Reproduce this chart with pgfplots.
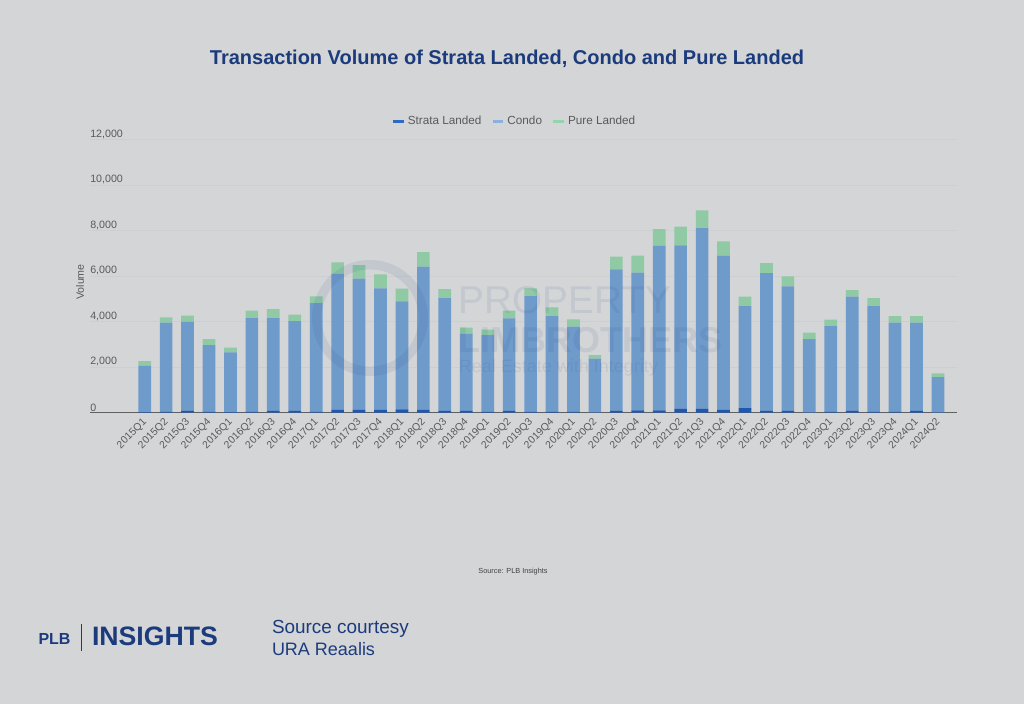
\documentclass[border=0pt]{standalone}
\usepackage{pgfplots}
\pgfplotsset{compat=1.18}
\usepackage{pgfplotstable}
\usepackage{fontspec}
\setmainfont{Liberation Sans}
\definecolor{bg}{HTML}{D4D5D7}
\definecolor{condo}{HTML}{6F9BCB}
\definecolor{pure}{HTML}{8FCAA5}
\definecolor{strata}{HTML}{1F58AE}
\definecolor{strataL}{HTML}{2F6BC6}
\definecolor{condoL}{HTML}{8DB0DE}
\definecolor{pureL}{HTML}{93D3AE}
\definecolor{navy}{HTML}{1B3B7D}
\definecolor{tickgray}{HTML}{5A5A5A}
\definecolor{gridc}{HTML}{CDCED0}

\pgfplotstableread{
x strata condo pure
0 20 2046 205
1 40 3916 234
2 90 3910 263
3 45 2929 264
4 20 2632 205
5 45 4116 322
6 75 4086 395
7 75 3954 278
8 45 4775 293
9 120 5989 498
10 120 5769 601
11 120 5344 616
12 150 4743 557
13 120 6297 644
14 75 4965 395
15 75 3397 264
16 45 3368 235
17 75 4071 337
18 45 5083 336
19 45 4204 380
20 45 3735 322
21 15 2358 161
22 90 6210 556
23 100 6053 747
24 100 7240 732
25 175 7179 821
26 175 7941 777
27 130 6770 630
28 200 4488 410
29 90 6048 440
30 75 5477 440
31 15 3223 278
32 45 3764 278
33 90 5008 293
34 45 4643 352
35 45 3911 293
36 75 3881 293
37 15 1553 161
}\data

\begin{document}
\begin{tikzpicture}
\fill[bg] (0,0) rectangle (768pt,528pt);
\useasboundingbox (0,0) rectangle (768pt,528pt);

% title
\node[anchor=base, text=navy, font=\bfseries\fontsize{15}{17}\selectfont, inner sep=0pt]
  at (380.25pt,479.75pt) {Transaction Volume of Strata Landed, Condo and Pure Landed};

% y label
\node[rotate=90, text=tickgray, font=\fontsize{8}{9}\selectfont, inner sep=0pt] at (60pt,316.5pt) {Volume};

\begin{axis}[
  at={(67.5pt,218.5pt)}, anchor=south west,
  scale only axis, width=650.25pt, height=204.7pt,
  ybar stacked, bar width=9.5pt,
  xmin=-2.55, xmax=37.89, ymin=0, ymax=12000,
  xtick={0,...,37},
  xticklabels={2015Q1,2015Q2,2015Q3,2015Q4,2016Q1,2016Q2,2016Q3,2016Q4,2017Q1,2017Q2,2017Q3,2017Q4,2018Q1,2018Q2,2018Q3,2018Q4,2019Q1,2019Q2,2019Q3,2019Q4,2020Q1,2020Q2,2020Q3,2020Q4,2021Q1,2021Q2,2021Q3,2021Q4,2022Q1,2022Q2,2022Q3,2022Q4,2023Q1,2023Q2,2023Q3,2023Q4,2024Q1,2024Q2},
  ytick={0,2000,4000,6000,8000,10000,12000},
  scaled y ticks=false,
  /pgf/number format/.cd, 1000 sep={,}, assume math mode=true, /pgfplots/.cd,
  major tick length=0pt,
  axis x line=bottom, axis y line=left,
  axis line style={-},
  x axis line style={draw=gray!75!black, line width=0.75pt},
  y axis line style={draw=none},
  ymajorgrids, grid style={gridc, line width=0.5pt},
  yticklabel style={anchor=south west, inner sep=0pt, yshift=0.5pt, text=tickgray, font=\fontsize{8}{9}\selectfont},
  xticklabel style={rotate=45, anchor=north east, inner sep=1pt, xshift=-3pt, text=tickgray, font=\fontsize{7.8}{9}\selectfont},
  legend columns=3,
  legend style={at={(0.490,1.068)}, anchor=center, draw=none, fill=none,
    font=\fontsize{8.8}{10}\selectfont, text=tickgray,
    /tikz/every even column/.append style={column sep=5.5pt}},
  clip=false,
]
\addplot[fill=strata, draw=none,
  legend image code/.code={\draw[line width=2pt, strataL] (0pt,0pt) -- (8pt,0pt);}]
  table[x=x, y=strata]{\data};
\addlegendentry{Strata Landed}
\addplot[fill=condo, draw=none,
  legend image code/.code={\draw[line width=2pt, condoL] (0pt,0pt) -- (8pt,0pt);}]
  table[x=x, y=condo]{\data};
\addlegendentry{Condo}
\addplot[fill=pure, draw=none,
  legend image code/.code={\draw[line width=2pt, pureL] (0pt,0pt) -- (8pt,0pt);}]
  table[x=x, y=pure]{\data};
\addlegendentry{Pure Landed}
\end{axis}

% watermark
\begin{scope}[opacity=0.09]
\draw[navy, line width=7pt] (277.5pt,289.5pt) circle (40pt);
\node[anchor=west, text=navy, font=\fontsize{29}{32}\selectfont, inner sep=0pt] at (344pt,303pt) {PROPERTY};
\node[anchor=west, text=navy, font=\bfseries\fontsize{27}{30}\selectfont, inner sep=0pt] at (344pt,273pt) {LIMBROTHERS};
\node[anchor=west, text=navy, font=\fontsize{13.5}{15}\selectfont, inner sep=0pt] at (344pt,252pt) {Real Estate with Integrity};
\end{scope}

% source
\node[text=black!75, font=\fontsize{5.5}{6}\selectfont, inner sep=0pt] at (384.75pt,99pt) {Source: PLB Insights};

% footer logo
\node[anchor=base west, text=navy, font=\bfseries\fontsize{12}{14}\selectfont, inner sep=0pt] at (28.7pt,44.75pt) {PLB};
\draw[navy, line width=1pt] (61.3pt,40pt) -- (61.3pt,60pt);
\node[anchor=base west, text=navy, font=\bfseries\fontsize{20}{24}\selectfont, inner sep=0pt] at (68.8pt,43.7pt) {INSIGHTS};
\node[anchor=base west, text=navy, font=\fontsize{14.2}{16}\selectfont, inner sep=0pt] at (203.8pt,53.25pt) {Source courtesy};
\node[anchor=base west, text=navy, font=\fontsize{13.5}{16}\selectfont, inner sep=0pt] at (203.8pt,36.4pt) {URA Reaalis};
\end{tikzpicture}
\end{document}
